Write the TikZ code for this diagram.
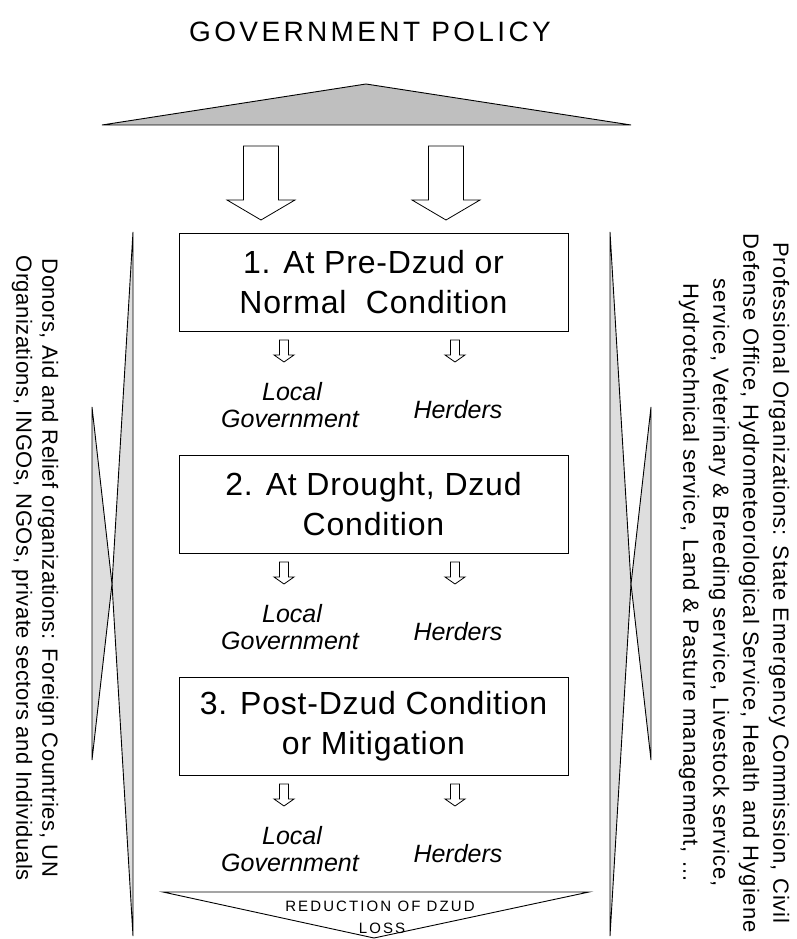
\documentclass[tikz,border=0pt]{standalone}
\usepackage{fontspec}
\setmainfont{Liberation Sans}
\newcommand{\dzarrow}[6]{%
  \draw[barrow] ({#1-#5},#2) -- ({#1+#5},#2) -- ({#1+#5},#3) -- ({#1+#6},#3)
    -- (#1,#4) -- ({#1-#6},#3) -- ({#1-#5},#3) -- cycle;}
\begin{document}
\begin{tikzpicture}[x=1pt,y=-1pt,
  tri/.style={draw=black, line width=0.9pt, line join=miter},
  toptri/.style={tri, fill=black!25},
  sidetri/.style={tri, fill=black!13},
  barrow/.style={draw=black, line width=0.8pt, fill=white},
  stagebox/.style={draw=black, line width=0.9pt, minimum width=389pt,
    minimum height=98pt, inner sep=0pt, align=center,
    font=\fontsize{32}{40}\selectfont\addfontfeature{LetterSpace=2.5}},
  actor/.style={font=\fontsize{25}{27}\selectfont\itshape, inner sep=0pt, anchor=base},
  sidetext/.style={rotate=-90, align=center, inner sep=0pt},
]
\useasboundingbox (0,0) rectangle (796,939);
\fill[white] (0,0) rectangle (796,939);

\node[font=\fontsize{28}{30}\selectfont\addfontfeature{LetterSpace=12}, anchor=base, inner sep=0pt] (title) at (370,42) {GOVERNMENT POLICY};

\draw[toptri] (102,125) -- (366,84) -- (631,125) -- cycle;

\dzarrow{261}{146}{200}{220}{17.5}{34}
\dzarrow{446}{146}{200}{220}{17.5}{34}

\node[stagebox] (s1) at (373.5,282) {1. At Pre-Dzud or\\Normal\ \ Condition};
\node[stagebox] (s2) at (373.5,504) {2. At Drought, Dzud\\Condition};
\node[stagebox] (s3) at (373.5,726) {3. Post-Dzud Condition\\or Mitigation};

\foreach \i/\T in {1/233,2/455,3/677}{
  \dzarrow{284}{\T+107}{\T+122}{\T+129}{4.5}{10}
  \dzarrow{455}{\T+107}{\T+122}{\T+129}{4.5}{10}
  \node[actor] (local\i) at (292,\T+167) {Local};
  \node[actor] (gov\i) at (290,\T+194) {Government};
  \node[actor] (herd\i) at (458,\T+185) {Herders};
}

\draw[tri, fill=white] (163,892) -- (589,892) -- (374,938) -- cycle;
\node[font=\fontsize{15}{17}\selectfont\addfontfeature{LetterSpace=14}, anchor=base, inner sep=0pt] (red1) at (380,911) {REDUCTION OF DZUD};
\node[font=\fontsize{15}{17}\selectfont\addfontfeature{LetterSpace=14}, anchor=base, inner sep=0pt] (red2) at (382,933) {LOSS};

\draw[sidetri] (133,232) -- (133,936) -- (112,584) -- cycle;
\draw[sidetri] (92,407) -- (92,760) -- (112,584) -- cycle;
\draw[sidetri] (610,232) -- (610,936) -- (631,584) -- cycle;
\draw[sidetri] (651,407) -- (651,760) -- (631,584) -- cycle;

\node[sidetext, font=\fontsize{22}{26}\selectfont\addfontfeature{LetterSpace=2.5}] (donors) at (35,568)
  {Donors, Aid and Relief organizations: Foreign Countries, UN\\Organizations, INGOs, NGOs, private sectors and Individuals};
\node[sidetext, font=\fontsize{22}{30}\selectfont\addfontfeature{LetterSpace=4.5}] (prof) at (734,583)
  {Professional Organizations: State Emergency Commission, Civil\\Defense Office, Hydrometeorological Service, Health and Hygiene\\service, Veterinary \& Breeding service, Livestock service,\\Hydrotechnical service, Land \& Pasture management, \dots};
\end{tikzpicture}
\end{document}
